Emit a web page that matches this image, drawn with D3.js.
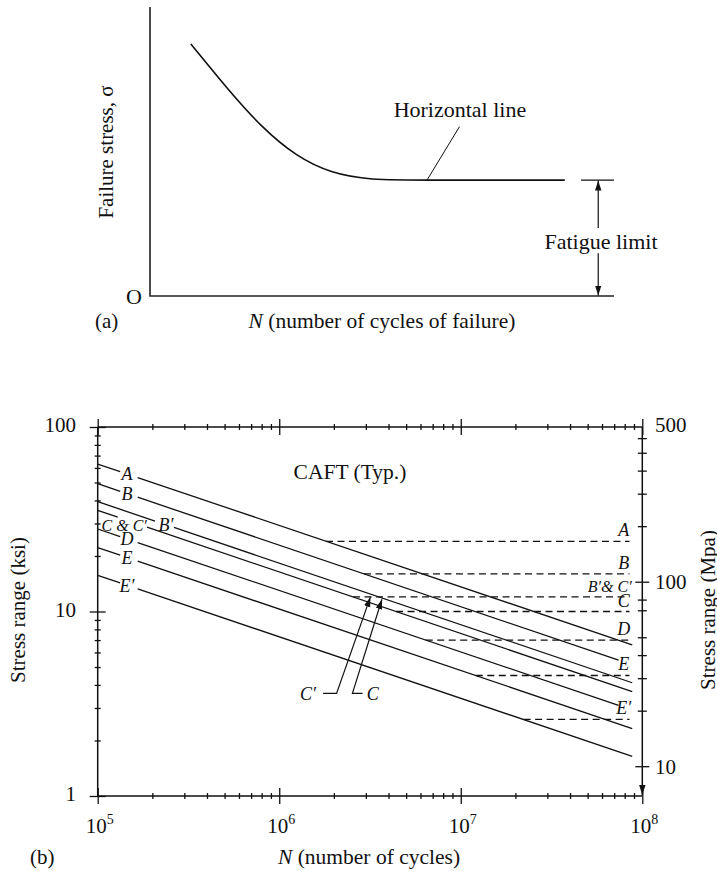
<!DOCTYPE html>
<html>
<head>
<meta charset="utf-8">
<script src="https://cdn.jsdelivr.net/npm/d3@7"></script>
<style>
  body { margin: 0; background: #fff; }
  text { font-family: "Liberation Serif", "DejaVu Serif", serif; fill: #111; }
  .it { font-style: italic; }
</style>
</head>
<body>
<svg id="chart" width="717" height="871"></svg>
<script>
// ---- (a) schematic S-N curve, arbitrary units ----
const curveN = [8.8, 16.75, 24.2, 31.6, 39, 47.2, 60, 89.4];
const curveSigma = [87.2, 71.5, 58.1, 48.2, 42.5, 40.1, 40.1, 40.1];
const fatigueLimit = 40.1;

// ---- (b) AASHTO fatigue categories ----
const categories = ["A", "B", "B′", "C", "D", "E", "E′"];
const startCycles = 1e5;
const startStress = [63, 49.3, 39.4, 35.3, 28, 22.2, 15.7];      // ksi at 10^5
const endCycles = [8.8e7, 7.4e7, 8.8e7, 8.8e7, 7.4e7, 8.8e7, 8.8e7];
const endStress = [6.6, 5.45, 4.11, 3.68, 3.1, 2.32, 1.64];      // ksi

// constant amplitude fatigue thresholds (dashed)
const caftLabels = ["A", "B", "B′& C′", "C", "D", "E", "E′"];
const caftStress = [24, 16, 12, 10, 7, 4.5, 2.6];
const caftStartN = [1.81e6, 2.93e6, 2.55e6, 4.4e6, 6.41e6, 1.21e7, 2.22e7];
const caftEndN = 8.5e7;

// tick values
const xMajor = [1e5, 1e6, 1e7, 1e8];
const xTickLabels = ["5", "6", "7", "8"];
const ksiMajor = [1, 10, 100];
const mpaTicks = [600, 500, 400, 300, 200, 100, 80, 70, 50, 40, 30, 20, 10];
const mpaLabels = [100, 10];

const svg = d3.select("#chart");

// arrow heads
const defs = svg.append("defs");
defs.append("marker").attr("id", "arr")
    .attr("viewBox", "0 0 10 10").attr("refX", 10).attr("refY", 5)
    .attr("markerWidth", 10).attr("markerHeight", 10)
    .attr("markerUnits", "userSpaceOnUse").attr("orient", "auto")
    .append("path").attr("d", "M0,1.8 L10,5 L0,8.2 Z").attr("fill", "#111");

// ================= panel (a) =================
const xa = d3.scaleLinear([0, 100], [150, 614]);
const ya = d3.scaleLinear([0, 100], [296, 7]);
const ga = svg.append("g");

ga.append("path")
    .attr("d", `M${xa(0)},${ya(100)} V${ya(0)} H${xa(100)}`)
    .attr("fill", "none").attr("stroke", "#222").attr("stroke-width", 1.6);

const curvePts = curveN.map((n, i) => [n, curveSigma[i]]);
ga.append("path")
    .datum(curvePts)
    .attr("d", d3.line().x(d => xa(d[0])).y(d => ya(d[1])).curve(d3.curveBasis))
    .attr("fill", "none").attr("stroke", "#111").attr("stroke-width", 1.6);

// fatigue limit marker
ga.append("line")
    .attr("x1", xa(92.9)).attr("x2", xa(100))
    .attr("y1", ya(fatigueLimit)).attr("y2", ya(fatigueLimit))
    .attr("stroke", "#111").attr("stroke-width", 1.4);
ga.append("line")
    .attr("x1", xa(96.6)).attr("x2", xa(96.6))
    .attr("y1", ya(23.5)).attr("y2", ya(fatigueLimit) + 0.5)
    .attr("stroke", "#111").attr("stroke-width", 1.2).attr("marker-end", "url(#arr)");
ga.append("line")
    .attr("x1", xa(96.6)).attr("x2", xa(96.6))
    .attr("y1", ya(14.8)).attr("y2", ya(0) - 0.5)
    .attr("stroke", "#111").attr("stroke-width", 1.2).attr("marker-end", "url(#arr)");
ga.append("text").attr("x", xa(97.2)).attr("y", ya(19)).attr("dy", "0.35em")
    .attr("text-anchor", "middle").attr("font-size", 22).text("Fatigue limit");

// horizontal line note
ga.append("line")
    .attr("x1", xa(66.7)).attr("y1", ya(58.6))
    .attr("x2", xa(59.7)).attr("y2", ya(fatigueLimit))
    .attr("stroke", "#111").attr("stroke-width", 1);
ga.append("text").attr("x", xa(66.8)).attr("y", ya(61.9))
    .attr("text-anchor", "middle").attr("font-size", 22).text("Horizontal line");

ga.append("text").attr("x", 134).attr("y", 296).attr("dy", "0.35em")
    .attr("text-anchor", "middle").attr("font-size", 22).text("O");
ga.append("text").attr("x", 95).attr("y", 328).attr("font-size", 21).text("(a)");
ga.append("text").attr("transform", "translate(113,152) rotate(-90)")
    .attr("text-anchor", "middle").attr("font-size", 21).text("Failure stress, σ");
const xla = ga.append("text").attr("x", 382).attr("y", 328)
    .attr("text-anchor", "middle").attr("font-size", 21.5);
xla.append("tspan").attr("class", "it").text("N");
xla.append("tspan").text(" (number of cycles of failure)");

// ================= panel (b) =================
const x = d3.scaleLog([1e5, 1e8], [97.7, 642.3]);
const y = d3.scaleLog([1, 100], [796, 427]);
const yMpa = d3.scaleLog([6.895, 689.5], [796, 427]);
const gb = svg.append("g");

// labels placed on the category lines (gaps cut into the lines)
const lineLabels = [
  { line: 0, text: "A",      n: 1.45e5, from: 1.33e5, to: 1.66e5, dy: 0 },
  { line: 1, text: "B",      n: 1.45e5, from: 1.33e5, to: 1.66e5, dy: 0 },
  { line: 2, text: "B′",     n: 2.38e5, from: 2.07e5, to: 2.63e5, dy: 0 },
  { line: 3, text: "C & C′", n: 1.40e5, from: 1.29e5, to: 1.87e5, dy: 6 },
  { line: 4, text: "D",      n: 1.45e5, from: 1.33e5, to: 1.66e5, dy: 0 },
  { line: 5, text: "E",      n: 1.45e5, from: 1.33e5, to: 1.66e5, dy: 0 },
  { line: 6, text: "E′",     n: 1.45e5, from: 1.33e5, to: 1.66e5, dy: 0 }
];

function lineY(i, px) {
  const x0 = x(startCycles), y0 = y(startStress[i]);
  const x1 = x(endCycles[i]), y1 = y(endStress[i]);
  return y0 + (px - x0) * (y1 - y0) / (x1 - x0);
}

categories.forEach((c, i) => {
  const gaps = lineLabels.filter(l => l.line === i).map(l => [x(l.from), x(l.to)]);
  let cuts = [x(startCycles)];
  gaps.forEach(g => cuts.push(g[0], g[1]));
  cuts.push(x(endCycles[i]));
  for (let k = 0; k < cuts.length; k += 2) {
    gb.append("line")
        .attr("x1", cuts[k]).attr("y1", lineY(i, cuts[k]))
        .attr("x2", cuts[k + 1]).attr("y2", lineY(i, cuts[k + 1]))
        .attr("stroke", "#111").attr("stroke-width", 1.3);
  }
});

lineLabels.forEach(l => {
  gb.append("text").attr("class", "it")
      .attr("x", x(l.n)).attr("y", lineY(l.line, x(l.n)) + l.dy)
      .attr("dy", "0.35em").attr("text-anchor", "middle")
      .attr("font-size", l.text.length > 2 ? 16 : 18)
      .text(l.text);
});

// dashed thresholds
caftStress.forEach((s, i) => {
  gb.append("line")
      .attr("x1", x(caftStartN[i])).attr("x2", x(caftEndN))
      .attr("y1", y(s)).attr("y2", y(s))
      .attr("stroke", "#111").attr("stroke-width", 1.3)
      .attr("stroke-dasharray", "7,4.5");
  gb.append("text").attr("class", "it")
      .attr("x", x(7.9e7)).attr("y", y(s) - 5)
      .attr("text-anchor", i === 2 ? "end" : "middle")
      .attr("dx", i === 2 ? 8 : 0)
      .attr("font-size", i === 2 ? 16 : 18).text(caftLabels[i]);
});

// C' and C leaders
const leaders = [
  { text: "C′", textN: 1.44e6, pts: [[1.744e6, 3.6], [2.07e6, 3.6], [3.18e6, 12]] },
  { text: "C",  textN: 3.27e6, pts: [[2.88e6, 3.6], [2.53e6, 3.6], [3.68e6, 11.65]] }
];
leaders.forEach(d => {
  gb.append("path")
      .attr("d", d3.line().x(p => x(p[0])).y(p => y(p[1]))(d.pts))
      .attr("fill", "none").attr("stroke", "#111").attr("stroke-width", 1.2)
      .attr("marker-end", "url(#arr)");
  gb.append("text").attr("class", "it")
      .attr("x", x(d.textN)).attr("y", y(3.6)).attr("dy", "0.35em")
      .attr("text-anchor", "middle").attr("font-size", 18).text(d.text);
});

gb.append("text").attr("x", 350).attr("y", 479)
    .attr("text-anchor", "middle").attr("font-size", 21.5).text("CAFT (Typ.)");

// ---- axes ----
const minorOf = (lo, hi) => {
  const out = [];
  for (let p = lo; p < hi; p *= 10) for (let k = 2; k <= 9; k++) out.push(k * p);
  return out;
};
const xMinor = minorOf(1e5, 1e8);
const ksiMinor = minorOf(1, 100);
const mpaMinor = mpaTicks.filter(v => !mpaLabels.includes(v));

function cross(sel, axisA, axisB) {
  sel.append("g").call(axisA);
  sel.append("g").call(axisB);
  sel.selectAll(".domain").remove();
  sel.selectAll("line").attr("stroke", "#111").attr("stroke-width", 1.3);
}

// frame lines
gb.append("path")
    .attr("d", `M${x(1e5)},${y(100)} V${y(1)} H${x(1e8)}`)
    .attr("fill", "none").attr("stroke", "#111").attr("stroke-width", 1.5);
gb.append("line").attr("x1", x(1e5)).attr("x2", x(1e8)).attr("y1", y(100)).attr("y2", y(100))
    .attr("stroke", "#111").attr("stroke-width", 1.5);
gb.append("line").attr("x1", x(1e8)).attr("x2", x(1e8)).attr("y1", y(100)).attr("y2", y(1) - 1)
    .attr("stroke", "#111").attr("stroke-width", 1.5).attr("marker-end", "url(#arr)");

// bottom x
const gxb = gb.append("g").attr("transform", `translate(0,${y(1)})`);
cross(gxb, d3.axisBottom(x).tickValues(xMajor).tickSize(8).tickFormat(""),
           d3.axisTop(x).tickValues(xMajor).tickSize(8).tickFormat(""));
const gxbm = gb.append("g").attr("transform", `translate(0,${y(1)})`);
cross(gxbm, d3.axisBottom(x).tickValues(xMinor).tickSize(3).tickFormat(""),
            d3.axisTop(x).tickValues(xMinor).tickSize(3).tickFormat(""));
// top x
const gxt = gb.append("g").attr("transform", `translate(0,${y(100)})`);
cross(gxt, d3.axisBottom(x).tickValues(xMajor).tickSize(8).tickFormat(""),
           d3.axisTop(x).tickValues(xMajor).tickSize(8).tickFormat(""));
const gxtm = gb.append("g").attr("transform", `translate(0,${y(100)})`);
cross(gxtm, d3.axisBottom(x).tickValues(xMinor).tickSize(3).tickFormat(""),
            d3.axisTop(x).tickValues(xMinor).tickSize(3).tickFormat(""));
// left y
const gyl = gb.append("g").attr("transform", `translate(${x(1e5)},0)`);
cross(gyl, d3.axisLeft(y).tickValues(ksiMajor).tickSize(8).tickFormat(""),
           d3.axisRight(y).tickValues(ksiMajor).tickSize(8).tickFormat(""));
const gylm = gb.append("g").attr("transform", `translate(${x(1e5)},0)`);
cross(gylm, d3.axisLeft(y).tickValues(ksiMinor).tickSize(3).tickFormat(""),
            d3.axisRight(y).tickValues(ksiMinor).tickSize(3).tickFormat(""));
// right y (MPa)
const gyr = gb.append("g").attr("transform", `translate(${x(1e8)},0)`);
cross(gyr, d3.axisLeft(yMpa).tickValues(mpaLabels).tickSize(7).tickFormat(""),
           d3.axisRight(yMpa).tickValues(mpaLabels).tickSize(7).tickFormat(""));
const gyrm = gb.append("g").attr("transform", `translate(${x(1e8)},0)`);
cross(gyrm, d3.axisLeft(yMpa).tickValues(mpaMinor).tickSize(4.5).tickFormat(""),
            d3.axisRight(yMpa).tickValues(mpaMinor).tickSize(4.5).tickFormat(""));

// tick labels
ksiMajor.forEach(v => {
  gb.append("text").attr("x", 76).attr("y", y(v) - 2).attr("dy", "0.35em")
      .attr("text-anchor", "end").attr("font-size", 21).text(v);
});
mpaLabels.forEach(v => {
  gb.append("text").attr("x", 655).attr("y", yMpa(v)).attr("dy", "0.35em")
      .attr("font-size", 21).text(v);
});
gb.append("text").attr("x", 655).attr("y", y(100) - 2).attr("dy", "0.35em")
    .attr("font-size", 21).text("500");
xMajor.forEach((v, i) => {
  const t = gb.append("text").attr("x", x(v) + 2).attr("y", 833)
      .attr("text-anchor", "middle").attr("font-size", 21);
  t.append("tspan").text("10");
  t.append("tspan").attr("font-size", 14).attr("dy", -9).text(xTickLabels[i]);
});

// axis titles
gb.append("text").attr("transform", "translate(25,610) rotate(-90)")
    .attr("text-anchor", "middle").attr("font-size", 21).text("Stress range (ksi)");
gb.append("text").attr("transform", "translate(715,610) rotate(-90)")
    .attr("text-anchor", "middle").attr("font-size", 21).text("Stress range (Mpa)");
const xlb = gb.append("text").attr("x", 369).attr("y", 864)
    .attr("text-anchor", "middle").attr("font-size", 21.5);
xlb.append("tspan").attr("class", "it").text("N");
xlb.append("tspan").text(" (number of cycles)");
gb.append("text").attr("x", 30).attr("y", 864).attr("font-size", 21).text("(b)");
</script>
</body>
</html>
